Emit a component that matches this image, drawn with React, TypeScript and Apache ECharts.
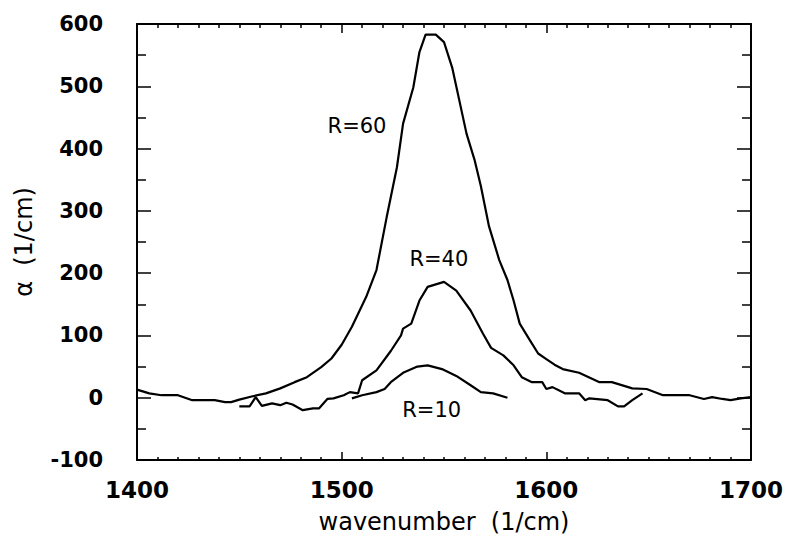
import React, { useEffect, useRef } from "react";
import * as echarts from "echarts";

// wavenumber (1/cm), alpha (1/cm)
const r60: [number, number][] = [
  [1400, 13], [1406, 7], [1412, 4], [1420, 4], [1427, -4], [1438, -4], [1443, -7], [1446, -7],
  [1450, -3], [1456, 2], [1463, 7], [1470, 15], [1477, 25], [1483, 33], [1490, 49], [1495, 63],
  [1500, 85], [1505, 114], [1512, 162], [1517, 205], [1522, 290], [1527, 370], [1530, 440],
  [1535, 498], [1538, 555], [1541, 583], [1546, 583], [1550, 571], [1554, 530], [1561, 424],
  [1565, 381], [1568, 340], [1572, 275], [1577, 221], [1581, 189], [1584, 156], [1587, 119],
  [1592, 92], [1596, 71], [1600, 62], [1604, 53], [1608, 46], [1616, 40], [1626, 25], [1632, 25],
  [1642, 15], [1649, 14], [1657, 4], [1670, 4], [1677, -2], [1681, 1], [1686, -2], [1690, -4],
  [1695, -1], [1700, 1],
];

const r40: [number, number][] = [
  [1450, -14], [1455, -14], [1458, 1], [1461, -13], [1466, -9], [1470, -12], [1473, -8],
  [1476, -11], [1481, -20], [1486, -17], [1489, -17], [1493, -2], [1496, -1], [1501, 4],
  [1504, 9], [1508, 7], [1510, 28], [1517, 44], [1524, 75], [1529, 100], [1530, 111],
  [1534, 119], [1538, 156], [1542, 178], [1550, 186], [1556, 172], [1563, 140], [1569, 103],
  [1573, 80], [1579, 68], [1584, 52], [1588, 33], [1593, 25], [1598, 25], [1600, 14],
  [1603, 17], [1609, 7], [1616, 7], [1619, -4], [1621, -1], [1630, -4], [1635, -14],
  [1638, -14], [1642, -4], [1647, 7],
];

const r10: [number, number][] = [
  [1505, -1], [1510, 4], [1517, 9], [1521, 14], [1524, 25], [1530, 40], [1537, 50],
  [1542, 52], [1549, 46], [1556, 35], [1563, 20], [1568, 9], [1574, 7], [1581, 0],
];

const curveLabels: { name: string; value: [number, number] }[] = [
  { name: "R=60", value: [1507.5, 437] },
  { name: "R=40", value: [1547.5, 222] },
  { name: "R=10", value: [1544, -20] },
];

const xTitle = "wavenumber  (1/cm)";
const yTitle = "\u03b1  (1/cm)";

export default function App() {
  const ref = useRef<HTMLDivElement>(null);

  useEffect(() => {
    if (!ref.current) return;
    const chart = echarts.init(ref.current, undefined, { renderer: "svg" });
    const black = "#000";
    const font = "DejaVu Sans";
    const axisCommon = {
      type: "value" as const,
      axisLine: { show: true, onZero: false, lineStyle: { color: black, width: 2 } },
      splitLine: { show: false },
      minorSplitLine: { show: false },
    };
    chart.setOption({
      animation: false,
      backgroundColor: "#fff",
      grid: { left: 137, right: 36, top: 24, bottom: 80, containLabel: false },
      xAxis: [
        {
          ...axisCommon,
          position: "bottom",
          min: 1400,
          max: 1700,
          interval: 100,
          axisTick: { show: true, inside: true, length: 8, lineStyle: { color: black, width: 1.5 } },
          minorTick: { show: true, splitNumber: 10, length: 3, lineStyle: { color: black, width: 1.5 } },
          axisLabel: {
            show: true,
            margin: 18,
            color: black,
            fontFamily: font,
            fontWeight: "bold",
            fontSize: 23,
            formatter: (v: number) => String(v),
          },
          name: xTitle,
          nameLocation: "middle",
          nameGap: 50,
          nameTextStyle: { color: black, fontFamily: font, fontSize: 24 },
        },
        {
          ...axisCommon,
          position: "top",
          min: 1400,
          max: 1700,
          interval: 100,
          axisTick: { show: true, inside: true, length: 9, lineStyle: { color: black, width: 1.5 } },
          minorTick: { show: true, splitNumber: 10, length: 4, lineStyle: { color: black, width: 1.5 } },
          axisLabel: { show: false },
        },
      ],
      yAxis: [
        {
          ...axisCommon,
          position: "left",
          min: -100,
          max: 600,
          interval: 100,
          axisTick: { show: true, inside: true, length: 14, lineStyle: { color: black, width: 1.5 } },
          minorTick: { show: true, splitNumber: 2, length: 9, lineStyle: { color: black, width: 1.5 } },
          axisLabel: {
            show: true,
            margin: 34,
            color: black,
            fontFamily: font,
            fontWeight: "bold",
            fontSize: 21,
            formatter: (v: number) => String(v),
          },
          name: yTitle,
          nameLocation: "middle",
          nameGap: 101,
          nameRotate: 90,
          nameTextStyle: { color: black, fontFamily: font, fontSize: 24 },
        },
        {
          ...axisCommon,
          position: "right",
          min: -100,
          max: 600,
          interval: 100,
          axisTick: { show: true, inside: true, length: 14, lineStyle: { color: black, width: 1.5 } },
          minorTick: { show: true, splitNumber: 2, length: 9, lineStyle: { color: black, width: 1.5 } },
          axisLabel: { show: false },
        },
      ],
      series: [
        ...[r60, r40, r10].map((d, i) => ({
          type: "line" as const,
          name: ["R=60", "R=40", "R=10"][i],
          xAxisIndex: 0,
          yAxisIndex: 0,
          data: d,
          showSymbol: false,
          symbol: "none",
          lineStyle: { color: black, width: 2.2 },
          itemStyle: { color: black },
          silent: true,
        })),
        {
          type: "scatter" as const,
          xAxisIndex: 0,
          yAxisIndex: 0,
          symbolSize: 0,
          silent: true,
          itemStyle: { color: black },
          data: curveLabels,
          label: {
            show: true,
            position: [0, 0],
            align: "center",
            verticalAlign: "middle",
            formatter: (p: any) => p.name,
            color: black,
            opacity: 1,
            textBorderWidth: 0,
            fontFamily: font,
            fontSize: 21,
          },
        },
      ],
    });
    return () => chart.dispose();
  }, []);

  return (
    <div
      ref={ref}
      style={{ position: "fixed", left: 0, top: 0, width: 787, height: 540, background: "#fff" }}
    />
  );
}
